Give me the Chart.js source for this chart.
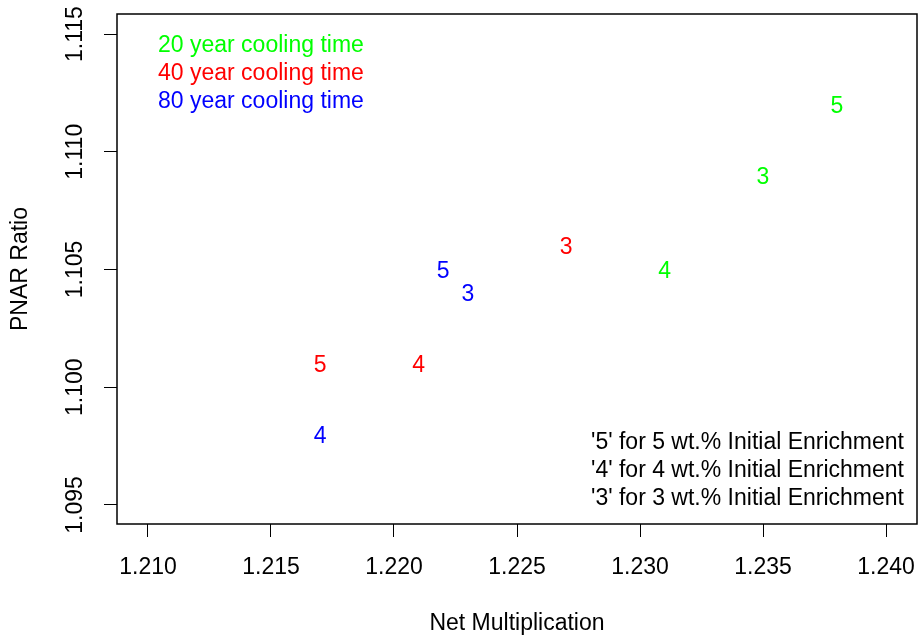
<!DOCTYPE html>
<html>
<head>
<meta charset="utf-8">
<script src="https://cdn.jsdelivr.net/npm/chart.js@4/dist/chart.umd.min.js"></script>
<style>
  html, body { margin: 0; padding: 0; background: #ffffff; }
  #wrap { width: 918px; height: 636px; }
</style>
</head>
<body>
<div id="wrap"><canvas id="c" width="918" height="636"></canvas></div>
<script>
// Series: PNAR ratio vs. net multiplication, by cooling time
const coolingLabels = ['20 year cooling time', '40 year cooling time', '80 year cooling time'];
const seriesColors = ['#00FF00', '#FF0000', '#0000FF'];

const netMult20 = [1.238, 1.235, 1.231];
const pnar20    = [1.112, 1.109, 1.105];
const enrich20  = ['5', '3', '4'];

const netMult40 = [1.227, 1.217, 1.221];
const pnar40    = [1.106, 1.101, 1.101];
const enrich40  = ['3', '5', '4'];

const netMult80 = [1.222, 1.223, 1.217];
const pnar80    = [1.105, 1.104, 1.098];
const enrich80  = ['5', '3', '4'];

const xTicks = [1.210, 1.215, 1.220, 1.225, 1.230, 1.235, 1.240];
const yTicks = [1.095, 1.100, 1.105, 1.110, 1.115];

const enrichmentNotes = [
  "'5' for 5 wt.% Initial Enrichment",
  "'4' for 4 wt.% Initial Enrichment",
  "'3' for 3 wt.% Initial Enrichment"
];

const FONT = '"Liberation Sans", Arial, Helvetica, sans-serif';
const FONT_SIZE = 23;
const TEXT_DY = 2; // nudges glyphs so the digit body sits on the data point

function toPoints(xs, ys, tags) {
  return xs.map((x, i) => ({ x: x, y: ys[i], tag: tags[i] }));
}

const datasets = [
  { label: coolingLabels[0], data: toPoints(netMult20, pnar20, enrich20), color: seriesColors[0] },
  { label: coolingLabels[1], data: toPoints(netMult40, pnar40, enrich40), color: seriesColors[1] },
  { label: coolingLabels[2], data: toPoints(netMult80, pnar80, enrich80), color: seriesColors[2] }
].map(d => ({
  label: d.label,
  data: d.data,
  borderColor: d.color,
  backgroundColor: d.color,
  pointRadius: 0,
  pointHoverRadius: 0,
  showLine: false
}));

// Draws each point as its enrichment digit, the frame, vertical y tick labels and the text keys
const textMarks = {
  id: 'textMarks',
  afterDatasetsDraw(chart) {
    const ctx = chart.ctx;
    const area = chart.chartArea;
    ctx.save();
    // plot frame
    ctx.strokeStyle = '#000';
    ctx.lineWidth = 1.5;
    ctx.strokeRect(area.left, area.top, area.right - area.left, area.bottom - area.top);

    ctx.font = FONT_SIZE + 'px ' + FONT;
    ctx.textBaseline = 'middle';

    // y tick labels, written parallel to the axis
    const ys = chart.scales.y;
    ctx.fillStyle = '#000';
    ctx.textAlign = 'center';
    ys.ticks.forEach(t => {
      const py = ys.getPixelForValue(t.value);
      ctx.save();
      ctx.translate(area.left - 41, py);
      ctx.rotate(-Math.PI / 2);
      ctx.fillText(t.value.toFixed(3), 0, 0);
      ctx.restore();
    });

    chart.data.datasets.forEach((ds, di) => {
      const meta = chart.getDatasetMeta(di);
      ctx.fillStyle = ds.borderColor;
      meta.data.forEach((el, i) => {
        ctx.fillText(ds.data[i].tag, el.x, el.y + TEXT_DY);
      });
    });

    // cooling-time key (top left)
    ctx.textAlign = 'left';
    chart.data.datasets.forEach((ds, di) => {
      ctx.fillStyle = ds.borderColor;
      ctx.fillText(ds.label, area.left + 41, area.top + 30 + TEXT_DY + di * 28);
    });

    // enrichment key (bottom right)
    ctx.textAlign = 'right';
    ctx.fillStyle = '#000';
    enrichmentNotes.forEach((t, i) => {
      ctx.fillText(t, area.right - 13, area.bottom - 83 + TEXT_DY + i * 28);
    });
    ctx.restore();
  }
};

new Chart(document.getElementById('c'), {
  type: 'scatter',
  data: { datasets: datasets },
  plugins: [textMarks],
  options: {
    responsive: false,
    animation: false,
    devicePixelRatio: 1,
    layout: { padding: { top: 14, right: 1, left: 0, bottom: 0 } },
    plugins: { legend: { display: false }, tooltip: { enabled: false } },
    scales: {
      x: {
        type: 'linear',
        min: 1.20874,
        max: 1.24126,
        afterBuildTicks: s => { s.ticks = xTicks.map(v => ({ value: v })); },
        afterFit: s => { s.height = 112; s.paddingLeft = 0; s.paddingRight = 0; },
        grid: { drawOnChartArea: false, drawTicks: true, tickLength: 13, color: '#000', lineWidth: 1 },
        border: { display: false },
        ticks: {
          color: '#000',
          font: { family: FONT, size: FONT_SIZE },
          padding: 17,
          maxRotation: 0,
          autoSkip: false,
          callback: v => Number(v).toFixed(3)
        },
        title: {
          display: true,
          text: 'Net Multiplication',
          color: '#000',
          font: { family: FONT, size: FONT_SIZE },
          padding: { top: 0, bottom: -1 }
        }
      },
      y: {
        type: 'linear',
        min: 1.09419,
        max: 1.11585,
        afterBuildTicks: s => { s.ticks = yTicks.map(v => ({ value: v })); },
        afterFit: s => { s.width = 117; s.paddingTop = 0; s.paddingBottom = 0; },
        grid: { drawOnChartArea: false, drawTicks: true, tickLength: 13, color: '#000', lineWidth: 1 },
        border: { display: false },
        ticks: { display: false },
        title: {
          display: true,
          text: 'PNAR Ratio',
          color: '#000',
          font: { family: FONT, size: FONT_SIZE },
          padding: { top: 7, bottom: 0 }
        }
      }
    }
  }
});
</script>
</body>
</html>
